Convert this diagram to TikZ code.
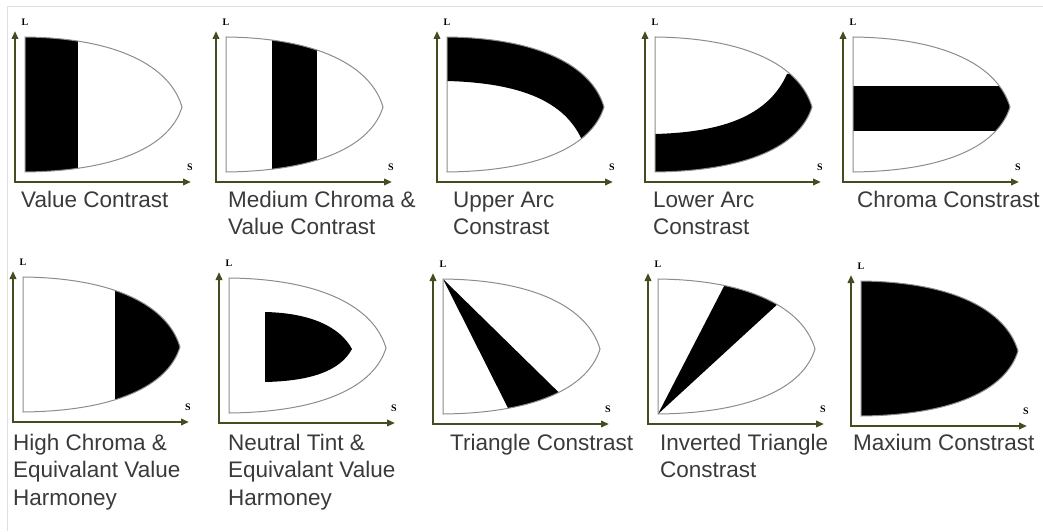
\documentclass[tikz,border=0pt]{standalone}
\usepackage{fontspec}
\setmainfont{Liberation Sans}
\newfontfamily\axisfont{Liberation Serif}
\usetikzlibrary{arrows.meta}

\definecolor{axisgreen}{RGB}{66,78,32}
\definecolor{rimgray}{RGB}{140,140,140}
\definecolor{captiongray}{RGB}{58,58,58}

% outline of the L--S solid, local coordinates of one panel
\newcommand{\solidpath}{(10,145) .. controls (102,144) and (155,116) .. (167,75)
  .. controls (155,36) and (102,11) .. (10,10) -- cycle}

\tikzset{
  axis/.style={axisgreen, line width=2pt, <->},
  rim/.style={rimgray, line width=1pt},
  caption/.style={anchor=base west, align=left, inner sep=0pt, text=captiongray,
    font=\fontsize{22.5}{27.5}\selectfont},
  axislabel/.style={inner sep=0pt, font=\axisfont\bfseries\fontsize{10}{10}\selectfont},
}

% axes with L and S labels for panel #1
\newcommand{\lsaxes}[1]{%
  \draw[axis] (0,151) -- (0,0) -- (176,0);
  \node[axislabel] (L#1) at (10,160) {L};
  \node[axislabel] (S#1) at (175,15) {S};
}

\begin{document}
\begin{tikzpicture}[x=1pt, y=1pt, >={Triangle[length=8pt,width=6.5pt]}]
  \useasboundingbox (0,0) rectangle (1043,531);
  % faint frame
  \draw[black!12, line width=1pt] (7,0) -- (7,524) -- (1043,524);

  % --- top row ---
  % value contrast
  \begin{scope}[shift={(15,349)}]
    \begin{scope}
      \clip \solidpath;
      \fill (0,0) rectangle (63,160);
    \end{scope}
    \draw[rim] \solidpath;
    \lsaxes{1}
  \end{scope}
  \node[caption] (cap1) at (21,324) {Value Contrast};

  % medium chroma & value contrast
  \begin{scope}[shift={(216,349)}]
    \begin{scope}
      \clip \solidpath;
      \fill (56,0) rectangle (101,160);
    \end{scope}
    \draw[rim] \solidpath;
    \lsaxes{2}
  \end{scope}
  \node[caption] (cap2) at (228,296.5) {Medium Chroma \&\\Value Contrast};

  % upper arc
  \begin{scope}[shift={(437,349)}]
    \begin{scope}
      \clip \solidpath;
      \fill (0,101) -- (10,101) .. controls (85,99) and (128,80) .. (145,42)
        -- (190,42) -- (190,160) -- (0,160) -- cycle;
    \end{scope}
    \draw[rim] \solidpath;
    \lsaxes{3}
  \end{scope}
  \node[caption] (cap3) at (453,296.5) {Upper Arc\\Constrast};

  % lower arc
  \begin{scope}[shift={(645,349)}]
    \begin{scope}
      \clip \solidpath;
      \fill (0,48) -- (10,48) .. controls (85,50) and (125,70) .. (142,108)
        -- (190,108) -- (190,0) -- (0,0) -- cycle;
    \end{scope}
    \draw[rim] \solidpath;
    \lsaxes{4}
  \end{scope}
  \node[caption] (cap4) at (653,296.5) {Lower Arc\\Constrast};

  % chroma contrast
  \begin{scope}[shift={(843,349)}]
    \begin{scope}
      \clip \solidpath;
      \fill (0,51) rectangle (190,96);
    \end{scope}
    \draw[rim] \solidpath;
    \lsaxes{5}
  \end{scope}
  \node[caption] (cap5) at (857,324) {Chroma Constrast};

  % --- bottom row ---
  % high chroma
  \begin{scope}[shift={(13,109)}]
    \begin{scope}
      \clip \solidpath;
      \fill (102,0) rectangle (190,160);
    \end{scope}
    \draw[rim] \solidpath;
    \lsaxes{6}
  \end{scope}
  \node[caption] (cap6) at (13,26) {High Chroma \&\\Equivalant Value\\Harmoney};

  % neutral tint
  \begin{scope}[shift={(219,108)}]
    \fill (46,111) .. controls (92,110) and (121,96) .. (133,74)
      .. controls (121,52) and (92,42) .. (46,41) -- cycle;
    \draw[rim] \solidpath;
    \lsaxes{7}
  \end{scope}
  \node[caption] (cap7) at (228,26) {Neutral Tint \&\\Equivalant Value\\Harmoney};

  % triangle
  \begin{scope}[shift={(433,107)}]
    \begin{scope}
      \clip \solidpath;
      \fill (10,145) -- (83,0) -- (158,0) -- cycle;
    \end{scope}
    \draw[rim] \solidpath;
    \lsaxes{8}
  \end{scope}
  \node[caption] (cap8) at (450,81) {Triangle Constrast};

  % inverted triangle
  \begin{scope}[shift={(648,107)}]
    \begin{scope}
      \clip \solidpath;
      \fill (10,10) -- (103,190) -- (182,168) -- cycle;
    \end{scope}
    \draw[rim] \solidpath;
    \lsaxes{9}
  \end{scope}
  \node[caption] (cap9) at (660,53.5) {Inverted Triangle\\Constrast};

  % maximum
  \begin{scope}[shift={(851,105)}]
    \fill \solidpath;
    \draw[rim] \solidpath;
    \lsaxes{10}
  \end{scope}
  \node[caption] (cap10) at (853,81) {Maxium Constrast};
\end{tikzpicture}
\end{document}
